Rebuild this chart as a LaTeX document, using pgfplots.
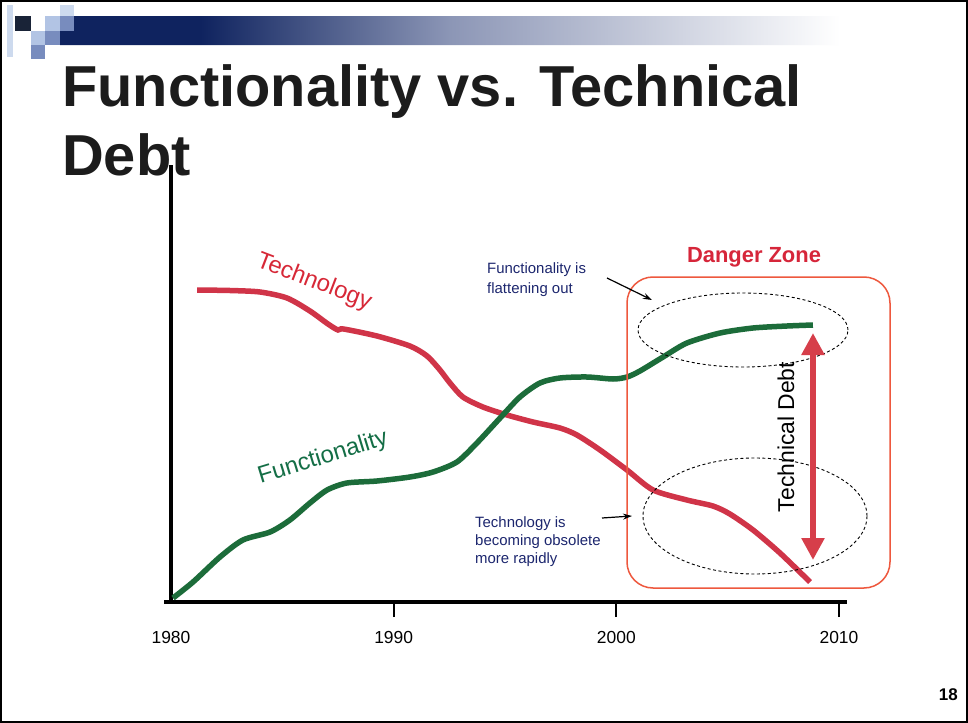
\documentclass[border=0pt]{standalone}
\usepackage{pgfplots}
\pgfplotsset{compat=1.18}
\usepackage{fontspec}
\setmainfont{Liberation Sans}
\usetikzlibrary{arrows.meta}
\definecolor{techred}{RGB}{208,52,72}
\definecolor{funcgreen}{RGB}{28,108,58}
\definecolor{navytext}{RGB}{28,38,110}
\definecolor{zonered}{RGB}{214,38,58}
\definecolor{boxorange}{RGB}{238,88,62}
\definecolor{arrowred}{RGB}{214,62,74}
\definecolor{navy}{RGB}{15,35,95}
\definecolor{navymid}{RGB}{140,150,182}
\definecolor{labred}{RGB}{215,40,55}
\definecolor{labgreen}{RGB}{20,110,70}
\definecolor{sqdark}{RGB}{25,35,55}
\definecolor{sqlight}{RGB}{178,196,228}
\definecolor{sqmed}{RGB}{120,140,190}
\definecolor{sqpale}{RGB}{205,218,238}
\definecolor{titlegray}{RGB}{28,28,28}
\pgfdeclarehorizontalshading{banner}{100bp}{color(0bp)=(navy); color(25bp)=(navy); color(34bp)=(navy); color(50bp)=(navymid); color(75bp)=(white); color(100bp)=(white)}
\begin{document}
\begin{tikzpicture}
\path[use as bounding box] (0,0) rectangle (968bp,-723bp);
\fill[white] (0,0) rectangle (968bp,-723bp);
\begin{axis}[
  at={(171bp,-602bp)}, anchor=south west,
  scale only axis, width=676bp, height=437bp,
  xmin=1980, xmax=2010.36, ymin=0, ymax=437,
  axis x line=bottom, axis y line=left,
  axis line style={-, black},
  x axis line style={line width=4bp, shorten <=-7bp},
  y axis line style={line width=3.5bp},
  xtick={1990,2000,2010},
  xticklabels={1990,2000,2010},
  extra x ticks={1980},
  extra x tick labels={1980},
  extra x tick style={tick style={draw=none}},
  ytick=\empty,
  tick align=outside,
  major tick length=15bp,
  xtick style={line width=2bp, black},
  xticklabel style={font=\fontsize{17.5}{17.5}\selectfont, yshift=-11bp},
  clip=false,
]
% Technology
\addplot[techred, line width=5.5bp, smooth, tension=0.45] coordinates {
(1981.17,312) (1982.65,311.5) (1984.00,310) (1985.21,304) (1986.24,291)
(1987.05,278) (1987.50,272) (1987.75,273) (1989.25,266) (1990.73,256)
(1991.50,246) (1992.08,232) (1992.53,219) (1993.11,205) (1994.01,195)
(1995.09,187) (1996.26,180) (1997.47,174) (1998.23,167) (1999.27,152)
(2000.48,132) (2001.65,112) (2003.17,102) (2004.34,96) (2005.10,88)
(2006.14,72) (2007.35,49) (2008.70,20)
};
% Functionality
\addplot[funcgreen, line width=5.5bp, smooth, tension=0.45] coordinates {
(1980.09,4) (1980.99,20) (1982.20,45) (1983.23,62) (1984.45,70)
(1985.34,82) (1986.24,99) (1987.01,112) (1987.90,119) (1989.25,121)
(1990.73,125) (1991.77,130) (1992.84,140) (1993.74,159) (1994.78,184)
(1995.67,205) (1996.57,219) (1997.47,224) (1998.68,225) (1999.85,223)
(2000.48,225) (2001.06,231) (2002.10,245) (2003.17,259) (2004.66,269)
(2006.14,274) (2007.67,276) (2008.83,277)
};
\end{axis}
\begin{scope}[x=1bp,y=-1bp]
% slide frame
\draw[line width=2.5bp] (1.25,1.25) rectangle (966.75,721.75);
% banner
\shade[shading=banner] (74,16) -- (840,16) -- (840,45) -- (60,45) -- (60,31) -- (74,31) -- cycle;
\fill[sqpale] (7,5) rectangle (13,57);
\fill[sqdark] (15,16) rectangle (31,31);
\fill[sqlight] (45,16) rectangle (60,31);
\fill[sqpale] (60,5) rectangle (74,16);
\fill[sqmed] (60,16) rectangle (74,31);
\fill[sqlight] (31,31) rectangle (45,45);
\fill[sqmed] (45,31) rectangle (60,45);
\fill[sqmed] (31,45) rectangle (45,59);
% title
\node[anchor=base west, inner sep=0, text=titlegray, font=\fontsize{58}{58}\selectfont\bfseries] at (62,106) {Functionality vs. Technical};
\node[anchor=base west, inner sep=0, text=titlegray, font=\fontsize{58}{58}\selectfont\bfseries] at (62,175) {Debt};
% page number
\node[anchor=base east, inner sep=0, font=\fontsize{17}{17}\selectfont\bfseries] at (958,700) {18};
% danger zone
\draw[boxorange, line width=1.5bp, rounded corners=26bp] (627,277) rectangle (890,588);
\node[anchor=base, inner sep=0, text=zonered, font=\fontsize{22}{22}\selectfont\bfseries] at (754,262) {Danger Zone};
\draw[line width=0.9bp, dash pattern=on 3bp off 2.5bp] (743,330) ellipse [x radius=105bp, y radius=37bp];
\draw[line width=0.9bp, dash pattern=on 3bp off 2.5bp] (755,516) ellipse [x radius=112bp, y radius=58bp];
\draw[arrowred, line width=6bp, {Triangle[width=22bp,length=22bp]}-{Triangle[width=22bp,length=22bp]}] (813,333) -- (813,560);
\node[rotate=90, inner sep=0, font=\fontsize{23}{23}\selectfont] at (786,437) {Technical Debt};
% curve labels
\node[rotate=-21, inner sep=0, text=labred, font=\fontsize{24}{24}\selectfont] at (314,282) {Technology};
\node[rotate=17, inner sep=0, text=labgreen, font=\fontsize{24}{24}\selectfont] at (323,458) {Functionality};
% annotations
\node[anchor=base west, inner sep=0, text=navytext, font=\fontsize{15}{15}\selectfont] at (487,273) {Functionality is};
\node[anchor=base west, inner sep=0, text=navytext, font=\fontsize{15}{15}\selectfont] at (487,293) {flattening out};
\draw[line width=1.2bp, -{Stealth[length=9bp,width=6bp]}] (607,278) -- (652,300);
\node[anchor=base west, inner sep=0, text=navytext, font=\fontsize{15}{15}\selectfont] at (475,527) {Technology is};
\node[anchor=base west, inner sep=0, text=navytext, font=\fontsize{15}{15}\selectfont] at (475,545) {becoming obsolete};
\node[anchor=base west, inner sep=0, text=navytext, font=\fontsize{15}{15}\selectfont] at (475,563) {more rapidly};
\draw[line width=1.2bp, -{Stealth[length=9bp,width=6bp]}] (602,518) -- (632,516);
\end{scope}
\end{tikzpicture}
\end{document}
